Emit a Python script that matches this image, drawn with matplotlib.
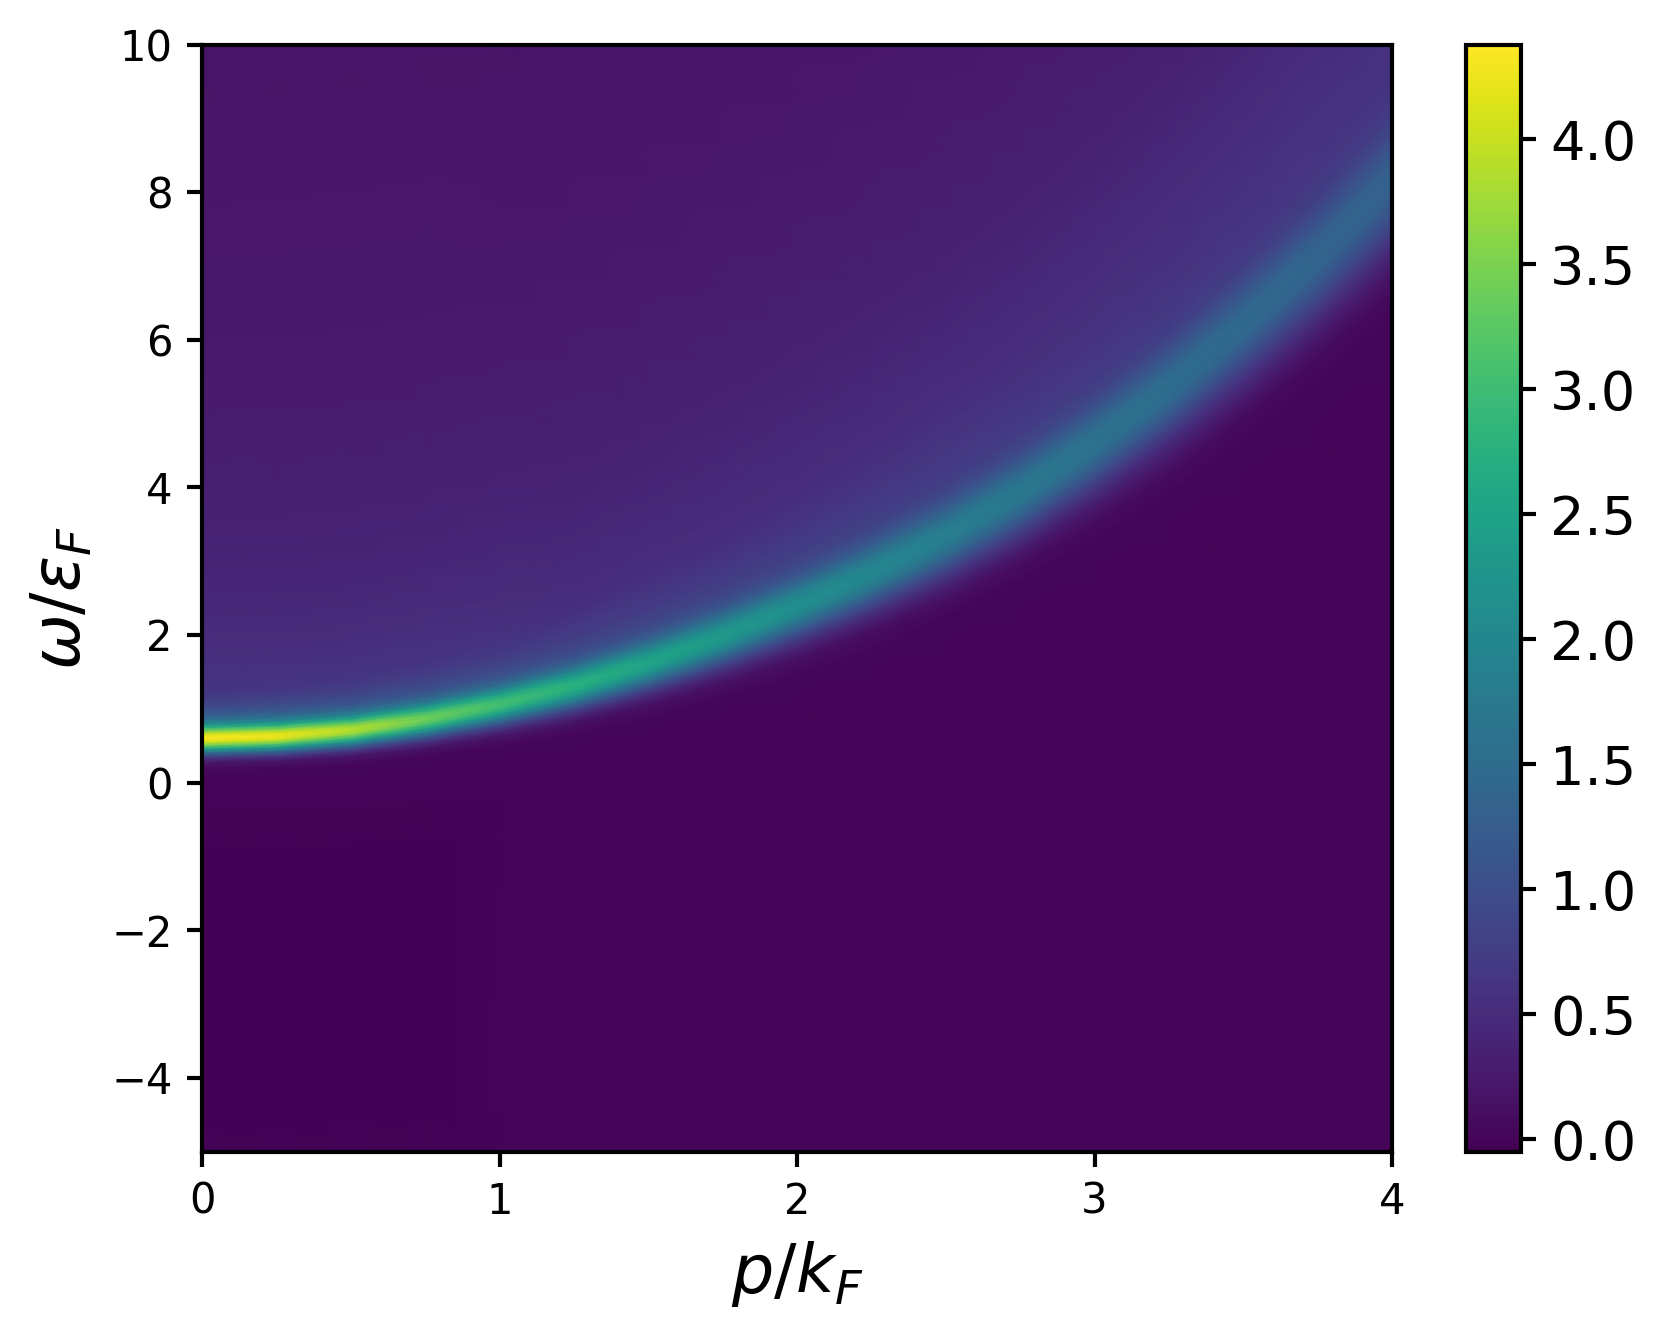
import numpy as np
import matplotlib
matplotlib.use("Agg")
import matplotlib.pyplot as plt

# values read column by column along the dispersion ridge
p_values = [0, 0.25, 0.5, 0.75, 1.0, 1.25, 1.5, 1.75, 2.0, 2.25, 2.5, 2.75, 3.0, 3.25, 3.5, 3.75, 4.0]
ridge_omega = [0.60, 0.63, 0.71, 0.86, 1.06, 1.31, 1.62, 1.98, 2.39, 2.84, 3.34, 3.93, 4.60, 5.35, 6.20, 7.12, 8.15]
ridge_peak = [4.38, 4.28, 3.90, 3.42, 3.05, 2.78, 2.55, 2.35, 2.15, 2.00, 1.86, 1.74, 1.63, 1.54, 1.46, 1.40, 1.35]
ridge_width = [0.32, 0.33, 0.35, 0.39, 0.44, 0.50, 0.57, 0.64, 0.72, 0.80, 0.88, 0.97, 1.06, 1.16, 1.27, 1.38, 1.50]
tail_scale = [1.05, 1.05, 1.05, 1.05, 1.03, 1.0, 1.0, 1.0, 1.0, 1.0, 1.0, 1.0, 1.0, 1.0, 1.0, 1.0, 1.0]
dip_scale = [1.0, 1.0, 0.9, 0.7, 0.45, 0.25, 0.1, 0, 0, 0, 0, 0, 0, 0, 0, 0, 0]

# cross-section through the ridge
row_width_units = [-2.0, -2.0, -2.0, -1.6, -1.3, -1.0, -0.8, -0.6, -0.45, -0.3, -0.15, 0,
                   0.15, 0.3, 0.45, 0.6, 0.8, 1.0, 1.3, 1.6, 2.0, 2.0, 2.0, 2.0, 2.0, 2.0, 2.0, 2.0]
row_extra_omega = [-16, -1.0, -0.2, 0, 0, 0, 0, 0, 0, 0, 0, 0,
                   0, 0, 0, 0, 0, 0, 0, 0, 0, 0.6, 1.3, 2.2, 3.5, 5.5, 8.5, 14]
row_line_share = [0, 0, 0, 0.002, 0.01, 0.06, 0.17, 0.37, 0.57, 0.78, 0.94, 1.0,
                  0.95, 0.80, 0.62, 0.45, 0.30, 0.20, 0.12, 0.07, 0.03, 0.01, 0, 0, 0, 0, 0, 0]
row_tail = [0, 0, 0, 0, 0, 0, 0, 0, 0, 0, 0, 0,
            0.02, 0.07, 0.14, 0.23, 0.33, 0.42, 0.48, 0.5, 0.5, 0.46, 0.41, 0.34, 0.28, 0.22, 0.18, 0.15]
row_dip = [0, -0.025, -0.01, 0, 0, 0, 0, 0, 0, 0, 0, 0,
           0, 0, 0, 0, 0, 0, 0, 0, 0, 0, 0, 0, 0, 0, 0, 0]

x_ticks = [0, 1, 2, 3, 4]
y_ticks = [-4, -2, 0, 2, 4, 6, 8, 10]
cbar_ticks = [0.0, 0.5, 1.0, 1.5, 2.0, 2.5, 3.0, 3.5, 4.0]
color_min, color_max = -0.05, 4.38

P = np.array(p_values)
W0 = np.array(ridge_omega)
A = np.array(ridge_peak)
G = np.array(ridge_width)
T = np.array(tail_scale)
D = np.array(dip_scale)
U = np.array(row_width_units)
E = np.array(row_extra_omega)
L = np.array(row_line_share)
R = np.array(row_tail)
N = np.array(row_dip)

X = np.tile(P, (len(U), 1))
Y = W0[None, :] + U[:, None] * G[None, :] + E[:, None]
Z = L[:, None] * A[None, :] + (1 - L[:, None]) * R[:, None] * T[None, :] + N[:, None] * D[None, :]

plt.rcParams["axes.linewidth"] = 1.0
plt.rcParams["xtick.major.width"] = 1.0
plt.rcParams["ytick.major.width"] = 1.0

W, H = 1667, 1340
fig = plt.figure(figsize=(W / 300, H / 300), dpi=300)
ax = fig.add_axes([202 / W, 1 - 1151.5 / H, (1392 - 202) / W, (1151.5 - 44.5) / H])
mesh = ax.pcolormesh(X, Y, Z, shading="gouraud", cmap="viridis", vmin=color_min, vmax=color_max)
ax.set_xlim(0, 4)
ax.set_ylim(-5, 10)
ax.set_xticks(x_ticks)
ax.set_yticks(y_ticks)
ax.tick_params(labelsize=10)
ax.set_xlabel(r"$p/k_F$", fontsize=16)
ax.set_ylabel(r"$\omega/\epsilon_F$", fontsize=16)

cax = fig.add_axes([1466 / W, 1 - 1151.5 / H, (1521 - 1466) / W, (1151.5 - 44.5) / H])
cb = fig.colorbar(mesh, cax=cax)
cb.set_ticks(cbar_ticks)
cb.ax.tick_params(labelsize=13)

fig.savefig("out.png", dpi=300)
